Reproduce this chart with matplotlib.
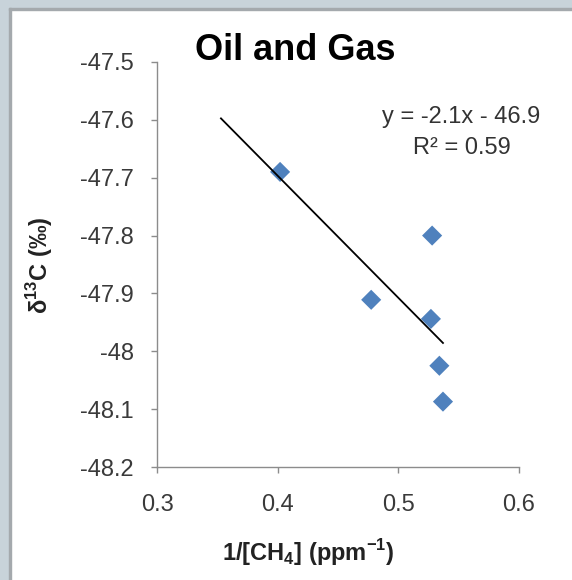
import numpy as np
import matplotlib.pyplot as plt
from matplotlib.patches import Rectangle

# === Data ===
inv_ch4 = [0.402, 0.528, 0.4775, 0.527, 0.534, 0.537]       # 1/[CH4] (ppm^-1)
d13c = [-47.69, -47.80, -47.911, -47.944, -48.025, -48.087]  # delta 13C (permil)
x_ticks = [0.3, 0.4, 0.5, 0.6]
y_ticks = [-47.5, -47.6, -47.7, -47.8, -47.9, -48.0, -48.1, -48.2]
y_tick_labels = ["-47.5", "-47.6", "-47.7", "-47.8", "-47.9", "-48", "-48.1", "-48.2"]
trend_start = 0.353

W, H = 572, 580
plt.rcParams['font.family'] = ['Liberation Sans', 'DejaVu Sans']
plt.rcParams['axes.unicode_minus'] = False
fig = plt.figure(figsize=(W / 100, H / 100), dpi=100)

# gray window frame at top and left
fig.patches.append(Rectangle((0, 1 - 8 / H), 1, 8 / H, transform=fig.transFigure,
                             color='#c8d3da', zorder=0))
fig.patches.append(Rectangle((0, 0), 9 / W, 1, transform=fig.transFigure,
                             color='#c8d3da', zorder=0))
fig.patches.append(Rectangle((9 / W, 0), 2 / W, 1 - 8 / H, transform=fig.transFigure,
                             color='#a4a9ad', zorder=0))
fig.patches.append(Rectangle((9 / W, 1 - 10 / H), 1, 2 / H, transform=fig.transFigure,
                             color='#a4a9ad', zorder=0))

ax = fig.add_axes([157 / W, (H - 467) / H, (519 - 157) / W, (467 - 62) / H])

ax.scatter(inv_ch4, d13c, marker='D', s=105, color='#4f81bd', edgecolors='none', zorder=3)

# linear trendline
slope, intercept = np.polyfit(inv_ch4, d13c, 1)
xl = np.array([trend_start, max(inv_ch4)])
ax.plot(xl, slope * xl + intercept, color='black', lw=1.3, zorder=4)

ax.set_xlim(0.3, 0.6)
ax.set_ylim(-48.2, -47.5)
ax.set_xticks(x_ticks)
ax.set_xticklabels([f"{v:.1f}" for v in x_ticks])
ax.set_yticks(y_ticks)
ax.set_yticklabels(y_tick_labels)

for side in ['top', 'right']:
    ax.spines[side].set_visible(False)
for side in ['left', 'bottom']:
    ax.spines[side].set_color('#8c8c8c')
    ax.spines[side].set_linewidth(1.0)
ax.tick_params(axis='both', colors='#8c8c8c', labelcolor='#3a3a3a',
               labelsize=17, length=4.5, width=1.0)
ax.tick_params(axis='x', pad=15)
ax.tick_params(axis='y', pad=12)

fig.text(295 / W, 1 - 50 / H, "Oil and Gas", ha='center', va='center',
         fontsize=26, fontweight='bold', color='black')
fig.text(461 / W, 1 - 117 / H, "y = -2.1x - 46.9", ha='center', va='center',
         fontsize=17, color='#333333')
fig.text(462 / W, 1 - 148 / H, "R² = 0.59", ha='center', va='center',
         fontsize=17, color='#333333')

fig.text(308 / W, 1 - 553 / H, "1/[CH$_\\mathregular{4}$] (ppm$^\\mathregular{-1}$)",
         ha='center', va='center', fontsize=17, fontweight='bold', color='#222222')
fig.text(40 / W, 1 - 265 / H, "δ$^\\mathregular{13}$C (‰)", ha='center', va='center',
         rotation=90, fontsize=17, fontweight='bold', color='#222222')

fig.savefig("out.png", dpi=100)
